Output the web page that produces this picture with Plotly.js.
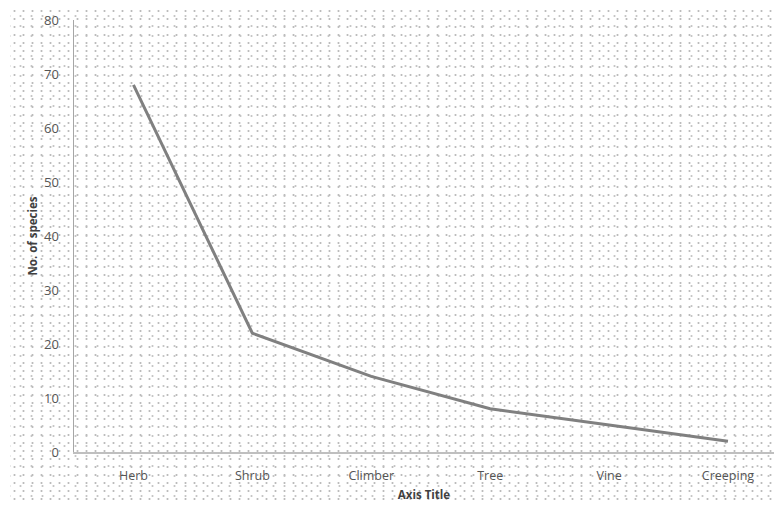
<!DOCTYPE html>
<html>
<head>
<meta charset="utf-8">
<script src="https://cdn.plot.ly/plotly-3.0.1.min.js"></script>
<style>
  html, body { margin: 0; padding: 0; background: #ffffff; }
  #wrap { position: relative; width: 774px; height: 506px; background: #ffffff; }
  #tex {
    position: absolute; left: 10px; top: 7px; width: 764px; height: 497px;
    background-color: #ffffff;
    background-image:
      radial-gradient(circle, #bcbcbc 0.8px, rgba(255,255,255,0) 1.3px),
      radial-gradient(circle, #c6c6c6 0.8px, rgba(255,255,255,0) 1.3px);
    background-size: 9px 8px, 11px 10px;
    background-position: 0 0, 5px 4px;
  }
  #chart { position: absolute; left: 0; top: 0; width: 774px; height: 506px; }
</style>
</head>
<body>
<div id="wrap">
  <div id="tex"></div>
  <div id="chart"></div>
</div>
<script>
const categories = ["Herb", "Shrub", "Climber", "Tree", "Vine", "Creeping"];
const speciesCount = [68, 22, 14, 8, 5, 2];
const yTicks = [0, 10, 20, 30, 40, 50, 60, 70, 80];

const trace = {
  type: "scatter",
  mode: "lines",
  x: categories,
  y: speciesCount,
  line: { color: "#808080", width: 3 },
  hoverinfo: "x+y"
};

const layout = {
  width: 774,
  height: 506,
  paper_bgcolor: "rgba(0,0,0,0)",
  plot_bgcolor: "rgba(0,0,0,0)",
  margin: { l: 74, r: 0, t: 20, b: 54 },
  showlegend: false,
  font: { family: "Open Sans, sans-serif", size: 12, color: "#595959" },
  xaxis: {
    type: "category",
    range: [-0.5, 5.387],
    showgrid: false,
    zeroline: false,
    showline: true,
    linecolor: "#bfbfbf",
    linewidth: 2,
    ticks: "",
    ticklabelstandoff: 11,
    tickfont: { family: "Open Sans, sans-serif", size: 12.5, color: "#555555" },
    title: {
      text: "Axis Title",
      font: { family: "Open Sans, sans-serif", size: 11.5, color: "#404040", weight: "bold" },
      standoff: 8
    },
    fixedrange: true
  },
  yaxis: {
    range: [0, 80],
    tickvals: yTicks,
    ticktext: yTicks.map(String),
    showgrid: false,
    zeroline: false,
    showline: true,
    linecolor: "#a6a6a6",
    linewidth: 1.5,
    ticks: "",
    ticklabelstandoff: 11,
    tickfont: { family: "Open Sans, sans-serif", size: 13, color: "#555555" },
    title: {
      text: "No. of species",
      font: { family: "Open Sans, sans-serif", size: 11.5, color: "#404040", weight: "bold" },
      standoff: 4
    },
    fixedrange: true
  }
};

Plotly.newPlot("chart", [trace], layout, { displayModeBar: false, staticPlot: true });
</script>
</body>
</html>
